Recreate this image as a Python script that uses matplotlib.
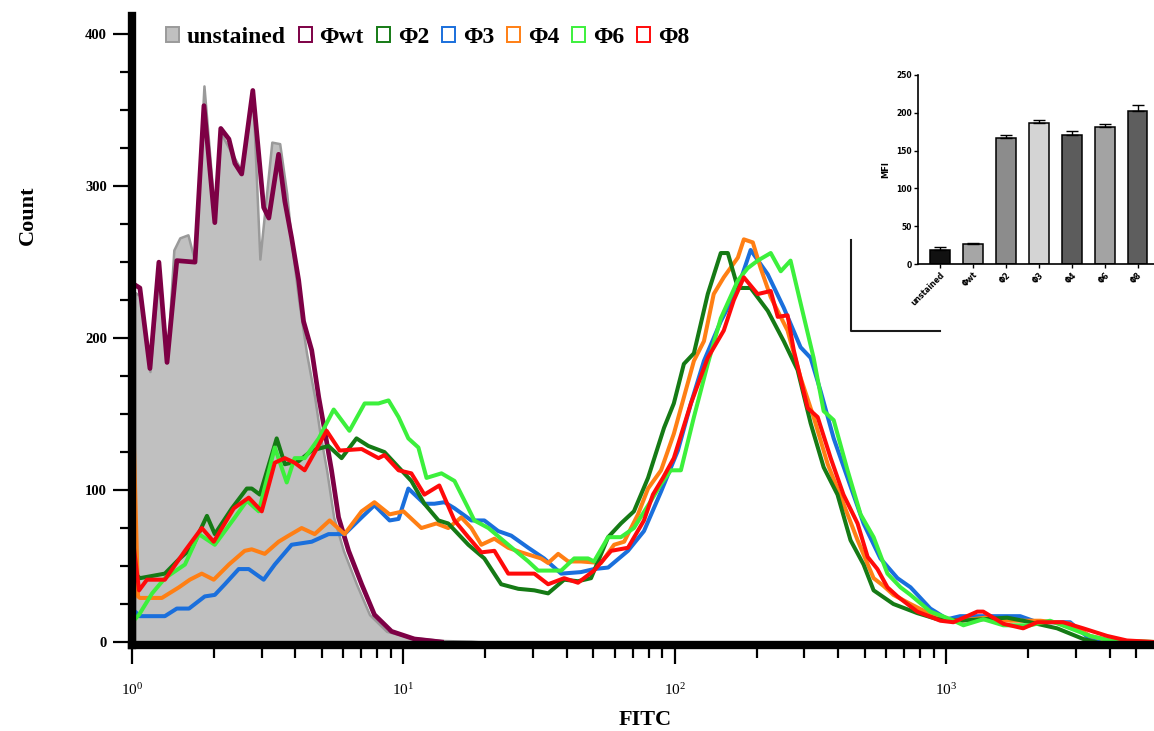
import matplotlib
matplotlib.use('Agg')
import matplotlib.pyplot as plt
from matplotlib.patches import Rectangle
from matplotlib.lines import Line2D
from matplotlib.ticker import MultipleLocator, LogLocator, NullFormatter
import numpy as np

plt.rcParams['font.family'] = ['Liberation Serif', 'DejaVu Serif']
plt.rcParams['mathtext.fontset'] = 'custom'
plt.rcParams['mathtext.rm'] = 'Liberation Serif'

# 直方图数据: x 为 log10(FITC), y 为 Count
unst_x = [0.011, 0.029, 0.066, 0.099, 0.129, 0.154, 0.176, 0.206, 0.232, 0.265, 0.305, 0.327, 0.357, 0.379,
          0.404, 0.445, 0.471, 0.515, 0.544, 0.570, 0.588, 0.614, 0.643, 0.673, 0.691, 0.717, 0.743, 0.779,
          0.827, 0.875, 0.938, 1.029, 1.140, 1.250, 1.287]
unst_y = [230, 228, 178, 245, 184, 258, 266, 268, 250, 366, 280, 335, 325, 318,
          310, 360, 252, 329, 328, 295, 262, 225, 190, 161, 139, 113, 82, 60,
          38, 18, 7, 3, 1, 0.5, 0]

wt_x = [0.011, 0.029, 0.066, 0.099, 0.129, 0.165, 0.232, 0.265, 0.305, 0.327, 0.357, 0.379, 0.404, 0.445,
        0.485, 0.504, 0.540, 0.563, 0.588, 0.614, 0.632, 0.662, 0.688, 0.710, 0.735, 0.761, 0.798, 0.846,
        0.893, 0.956, 1.040, 1.140]
wt_y = [235, 233, 180, 250, 184, 251, 250, 353, 276, 338, 331, 315, 308, 363,
        286, 279, 321, 290, 266, 238, 211, 192, 161, 139, 113, 82, 60, 38,
        18, 7, 2, 0]

p3_x = [0.011, 0.029, 0.121, 0.165, 0.210, 0.268, 0.305, 0.342, 0.393, 0.430, 0.485, 0.526, 0.588, 0.662,
        0.724, 0.783, 0.846, 0.893, 0.949, 0.982, 1.018, 1.077, 1.114, 1.151, 1.188, 1.250, 1.298, 1.349,
        1.397, 1.460, 1.518, 1.581, 1.654, 1.702, 1.754, 1.827, 1.886, 1.949, 2.011, 2.059, 2.107, 2.169,
        2.232, 2.279, 2.342, 2.401, 2.463, 2.500, 2.537, 2.585, 2.636, 2.695, 2.757, 2.820, 2.868, 2.941,
        3.004, 3.051, 3.272, 3.335, 3.456, 3.529, 3.566]
p3_y = [20, 17, 17, 22, 22, 30, 31, 38, 48, 48, 41, 51, 64, 66,
        71, 71, 82, 90, 80, 81, 101, 91, 91, 92, 88, 80, 80, 73,
        70, 62, 55, 45, 46, 48, 49, 60, 73, 99, 126, 157, 185, 211,
        233, 258, 242, 220, 194, 187, 165, 134, 108, 78, 55, 42, 36, 22,
        15, 17, 17, 13, 13, 2, 0]

p2_x = [0.011, 0.029, 0.121, 0.176, 0.221, 0.276, 0.305, 0.368, 0.423, 0.441, 0.471, 0.533, 0.563, 0.614,
        0.662, 0.724, 0.772, 0.827, 0.871, 0.930, 0.982, 1.029, 1.077, 1.129, 1.165, 1.239, 1.298, 1.360,
        1.423, 1.482, 1.533, 1.592, 1.643, 1.691, 1.754, 1.801, 1.849, 1.901, 1.960, 1.996, 2.033, 2.070,
        2.121, 2.169, 2.195, 2.232, 2.279, 2.342, 2.401, 2.452, 2.500, 2.548, 2.599, 2.647, 2.695, 2.732,
        2.805, 2.893, 2.967, 3.051, 3.224, 3.283, 3.408, 3.504, 3.548]
p2_y = [45, 42, 45, 55, 62, 83, 71, 88, 101, 101, 97, 134, 117, 119,
        126, 129, 121, 134, 129, 125, 115, 106, 91, 80, 78, 64, 55, 38,
        35, 34, 32, 41, 40, 42, 69, 78, 86, 108, 141, 157, 183, 190,
        229, 256, 256, 233, 233, 218, 198, 179, 144, 115, 97, 67, 51, 34,
        25, 19, 15, 14, 16, 14, 9, 2, 0]

p4_x = [0.007, 0.022, 0.029, 0.110, 0.173, 0.213, 0.257, 0.301, 0.357, 0.415, 0.441, 0.489, 0.540, 0.577,
        0.625, 0.673, 0.728, 0.783, 0.846, 0.893, 0.949, 1.000, 1.066, 1.121, 1.165, 1.213, 1.250, 1.287,
        1.335, 1.386, 1.434, 1.507, 1.533, 1.570, 1.607, 1.654, 1.728, 1.776, 1.813, 1.864, 1.901, 1.949,
        1.996, 2.033, 2.070, 2.107, 2.143, 2.180, 2.232, 2.254, 2.287, 2.316, 2.353, 2.415, 2.463, 2.511,
        2.563, 2.621, 2.673, 2.732, 2.768, 2.805, 2.868, 2.978, 3.051, 3.143, 3.235, 3.346, 3.456, 3.529,
        3.603, 3.765]
p4_y = [130, 30, 29, 29, 36, 41, 45, 41, 51, 60, 61, 58, 66, 70,
        75, 71, 80, 71, 86, 92, 84, 86, 75, 78, 75, 82, 75, 64,
        68, 62, 59, 55, 52, 58, 53, 53, 52, 64, 66, 84, 101, 113,
        137, 161, 185, 198, 229, 240, 253, 265, 263, 246, 227, 205, 174, 148,
        117, 91, 67, 42, 37, 31, 25, 15, 14, 16, 14, 14, 12, 4,
        1, 0]

p6_x = [0.011, 0.026, 0.074, 0.121, 0.195, 0.246, 0.305, 0.379, 0.423, 0.467, 0.526, 0.570, 0.599, 0.636,
        0.688, 0.743, 0.801, 0.857, 0.908, 0.945, 0.982, 1.018, 1.055, 1.085, 1.140, 1.188, 1.239, 1.261,
        1.313, 1.386, 1.460, 1.496, 1.581, 1.629, 1.680, 1.702, 1.754, 1.801, 1.849, 1.912, 1.949, 1.985,
        2.022, 2.070, 2.121, 2.169, 2.232, 2.268, 2.305, 2.353, 2.390, 2.426, 2.463, 2.511, 2.548, 2.585,
        2.636, 2.684, 2.732, 2.783, 2.831, 2.868, 2.941, 3.015, 3.063, 3.136, 3.210, 3.309, 3.382, 3.456,
        3.529, 3.603, 3.765]
p6_y = [15, 18, 32, 42, 51, 71, 64, 82, 93, 86, 128, 105, 121, 121,
        134, 153, 139, 157, 157, 159, 148, 134, 128, 108, 111, 106, 88, 80,
        75, 64, 53, 47, 47, 55, 55, 53, 69, 69, 75, 93, 104, 113,
        113, 148, 183, 213, 238, 246, 251, 256, 244, 251, 223, 187, 152, 146,
        113, 84, 69, 45, 36, 31, 20, 15, 11, 15, 11, 11, 14, 9,
        4, 1, 0]

p8_x = [0.007, 0.026, 0.055, 0.121, 0.195, 0.257, 0.301, 0.375, 0.430, 0.478, 0.526, 0.563, 0.599, 0.636,
        0.717, 0.765, 0.846, 0.908, 0.930, 0.982, 1.029, 1.077, 1.132, 1.188, 1.239, 1.287, 1.335, 1.386,
        1.482, 1.533, 1.592, 1.643, 1.702, 1.765, 1.827, 1.886, 1.919, 1.956, 1.996, 2.059, 2.121, 2.180,
        2.217, 2.254, 2.305, 2.353, 2.379, 2.415, 2.438, 2.489, 2.526, 2.574, 2.621, 2.673, 2.710, 2.746,
        2.783, 2.820, 2.893, 2.978, 3.026, 3.114, 3.136, 3.210, 3.283, 3.335, 3.430, 3.504, 3.592, 3.665,
        3.765]
p8_y = [62, 34, 41, 41, 60, 75, 66, 88, 95, 86, 118, 121, 118, 113,
        139, 126, 127, 121, 123, 113, 111, 97, 103, 80, 69, 59, 60, 45,
        45, 38, 42, 39, 47, 60, 62, 80, 97, 108, 121, 157, 187, 205,
        225, 240, 229, 231, 214, 215, 192, 154, 148, 121, 97, 78, 56, 48,
        36, 30, 20, 14, 13, 20, 20, 12, 9, 13, 13, 9, 4, 1,
        0]

# 插图 MFI 数据
groups = ['unstained', 'Φwt', 'Φ2', 'Φ3', 'Φ4', 'Φ6', 'Φ8']
mfi = [19, 26, 167, 187, 171, 181, 203]
mfi_err = [3, 2, 3, 3, 5, 4, 7]
bar_colors = ['#111111', '#a6a6a6', '#8c8c8c', '#d4d4d4', '#5c5c5c', '#a3a3a3', '#5e5e5e']

fig = plt.figure(figsize=(11.54, 7.31), dpi=100)
ax = fig.add_axes([0.1144, 0.1176, 0.8856, 0.8605])

def fx(v):
    return 10 ** np.array(v)

ax.fill_between(fx(unst_x), unst_y, 0, facecolor='#c0c0c0', edgecolor='#9a9a9a', linewidth=1.8, zorder=1)
ax.plot(fx(wt_x), wt_y, color='#7d0045', lw=3.4, zorder=2)
ax.plot(fx(p3_x), p3_y, color='#1a6fdc', lw=2.9, zorder=3)
ax.plot(fx(p4_x), p4_y, color='#ff7f14', lw=2.9, zorder=4)
ax.plot(fx(p2_x), p2_y, color='#157a15', lw=2.9, zorder=5)
ax.plot(fx(p6_x), p6_y, color='#3cf03c', lw=2.9, zorder=6)
ax.plot(fx(p8_x), p8_y, color='#ff0a0a', lw=2.9, zorder=7)

ax.set_xscale('log')
ax.set_xlim(1.0, 10 ** 3.765)
ax.set_ylim(-2, 412)
ax.xaxis.set_major_locator(LogLocator(base=10))
ax.xaxis.set_minor_locator(LogLocator(base=10, subs=np.arange(2, 10)))
ax.xaxis.set_minor_formatter(NullFormatter())
ax.yaxis.set_major_locator(MultipleLocator(100))
ax.yaxis.set_minor_locator(MultipleLocator(25))

for s in ['top', 'right']:
    ax.spines[s].set_visible(False)
for s in ['left', 'bottom']:
    ax.spines[s].set_linewidth(6)
    ax.spines[s].set_zorder(10)
ax.tick_params(which='major', direction='out', length=14, width=1.6, pad=4)
ax.tick_params(which='minor', direction='out', length=9, width=1.6)
ax.tick_params(axis='y', labelsize=10.5)
ax.tick_params(axis='x', labelsize=11, pad=13)
for lab in ax.get_yticklabels():
    lab.set_fontweight('bold')

ax.set_ylabel('Count', fontsize=16, fontweight='bold')
ax.yaxis.set_label_coords(-0.092, 0.684)
ax.set_xlabel('FITC', fontsize=16, fontweight='bold')
ax.xaxis.set_label_coords(0.502, -0.103)

# 图例
names = ['unstained', 'Φwt', 'Φ2', 'Φ3', 'Φ4', 'Φ6', 'Φ8']
edge_cols = ['#9a9a9a', '#7d0045', '#157a15', '#1a6fdc', '#ff7f14', '#3cf03c', '#ff0a0a']
face_cols = ['#c0c0c0'] + ['white'] * 6
handles = [Rectangle((0, 0), 1, 1, facecolor=f, edgecolor=e, linewidth=1.4) for f, e in zip(face_cols, edge_cols)]
fig.legend(handles, names, loc='center left', bbox_to_anchor=(166 / 1154, 0.949), ncol=7, frameon=False,
           borderpad=0, borderaxespad=0, handlelength=0.55, handleheight=0.55, handletextpad=0.33,
           columnspacing=0.55, prop={'size': 17, 'weight': 'bold'})

# 插图: MFI 柱状图
ins = fig.add_axes([918 / 1154, 1 - 264 / 731, (1154 - 918) / 1154, (264 - 75) / 731])
ins.set_facecolor('none')
xpos = np.arange(len(groups))
ins.bar(xpos, mfi, width=0.6, color=bar_colors, edgecolor='black', linewidth=1.1,
        yerr=[np.zeros(len(mfi)), mfi_err], error_kw={'elinewidth': 1.0, 'capsize': 4, 'capthick': 1.0})
ins.set_xlim(-0.67, 6.5)
ins.set_ylim(0, 250)
ins.yaxis.set_major_locator(MultipleLocator(50))
ins.set_xticks(xpos)
ins.set_xticklabels(groups, rotation=45, ha='right', rotation_mode='anchor',
                    family=['DejaVu Sans'], fontsize=5.5, fontweight='bold')
for lab in ins.get_yticklabels():
    lab.set_family(['DejaVu Sans'])
    lab.set_fontweight('bold')
ins.tick_params(labelsize=5.5, length=3, width=1.0, pad=1.5)
for s in ['top', 'right']:
    ins.spines[s].set_visible(False)
for s in ['left', 'bottom']:
    ins.spines[s].set_linewidth(1.2)
ins.set_ylabel('MFI', family=['DejaVu Sans'], fontsize=6, fontweight='bold', labelpad=4)

# 插图左下角的直角线
fig.add_artist(Line2D([851 / 1154, 851 / 1154, 940 / 1154], [1 - 240 / 731, 1 - 331 / 731, 1 - 331 / 731],
                      color='#1a1a1a', lw=1.5))

fig.savefig('out.png', dpi=100)
